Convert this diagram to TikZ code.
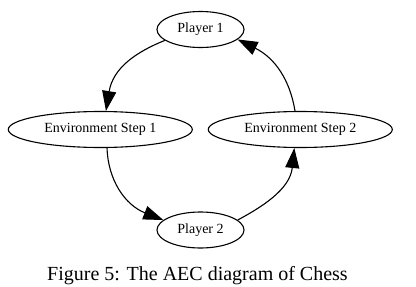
\documentclass[tikz,border=0pt]{standalone}
\usepackage{fontspec}
\setmainfont{Liberation Serif}
\usetikzlibrary{shapes.geometric,arrows.meta}
\begin{document}
\begin{tikzpicture}[x=1pt,y=-1pt,
  state/.style={ellipse,draw,line width=1.1pt,inner sep=0pt,font=\fontsize{14}{16}\selectfont},
  small/.style={state,minimum width=87pt,minimum height=36pt},
  wide/.style={state,minimum width=184pt,minimum height=36pt},
  edge/.style={line width=1.1pt,-{Triangle[length=20pt,width=14pt]}}]
\useasboundingbox (0,0) rectangle (416,287);
\node[small] (p1) at (200.5,29.5) {Player 1};
\node[wide]  (e1) at (100.3,129.5) {Environment Step 1};
\node[wide]  (e2) at (300.3,129.5) {Environment Step 2};
\node[small] (p2) at (200.5,230) {Player 2};
\node[font=\fontsize{20}{24}\selectfont,anchor=base] (caption) at (197.5,280) {Figure 5: The AEC diagram of Chess};
\draw[edge] (p1.197) .. controls (136,52) and (113,68) .. (e1.73);
\draw[edge] (e2.106) .. controls (290,80) and (275,58) .. (p1.345);
\draw[edge] (e1.290) .. controls (108,180) and (125,205) .. (p2.165);
\draw[edge] (p2.15) .. controls (260,208) and (290,190) .. (e2.252);
\end{tikzpicture}
\end{document}
